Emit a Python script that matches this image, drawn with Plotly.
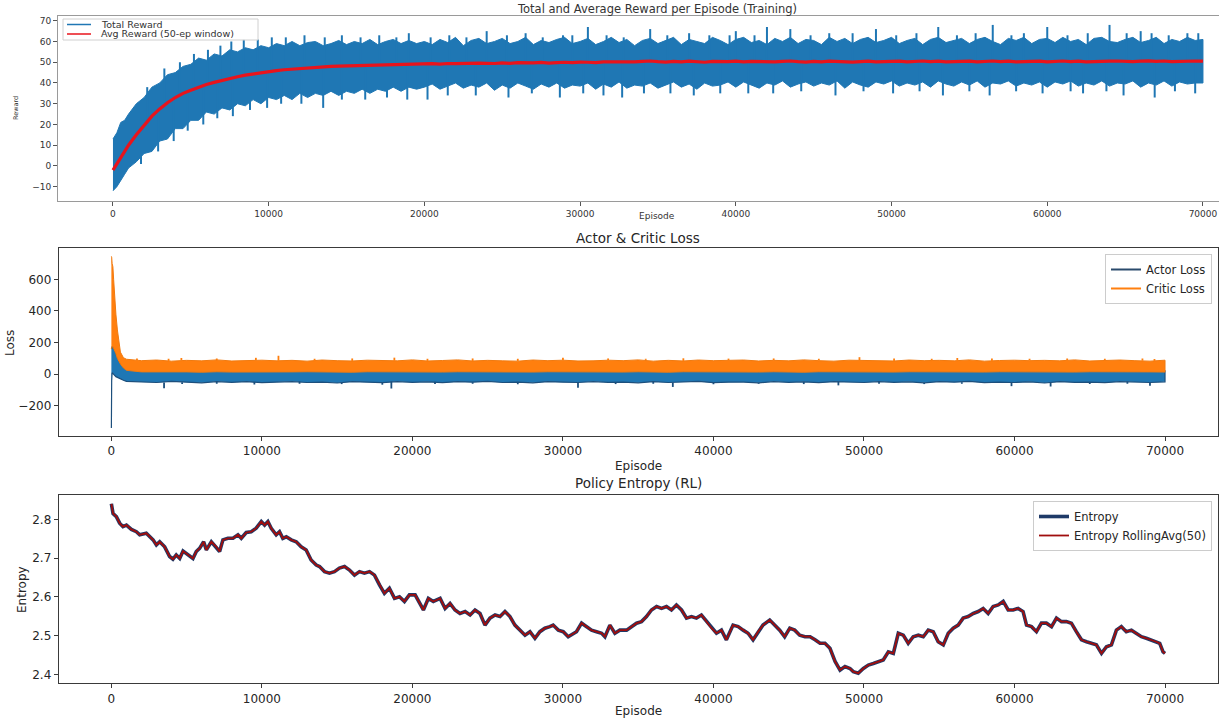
import plotly.graph_objects as go

# ---------------- data ----------------
# Panel 1: total reward envelope (typical min / max of the noisy series) and 50-ep average
rew_ep = [0, 250, 500, 750] + list(range(1000, 70001, 500))
rew_hi = [13, 16, 21, 22,
          25, 30, 33, 38, 40, 44, 45, 48, 49, 52,
          51, 54, 53, 56, 55, 57, 56, 58, 57, 59,
          58, 60, 58, 59.5, 60, 58, 59, 60.5, 58.5, 60,
          59, 61, 58.5, 60, 61, 59, 60.5, 59,
          60, 58.5, 61, 59.5, 62, 58, 60.5, 61.5, 59, 60,
          61.5, 59, 60, 62, 58.5, 60.5, 59.5, 61, 62, 59,
          60, 61.5, 58.5, 60, 62, 59.5, 61, 58, 60.5, 61.5,
          59, 60.5, 62, 58.5, 61, 60, 59, 62, 60.5, 58.5,
          61, 62, 59.5, 60.5, 58.5, 61.5, 60, 62, 59, 61,
          60.5, 58.5, 62, 60, 61.5, 59, 61, 62, 59.5, 60.5,
          62, 59, 60.5, 61.5, 58.5, 61, 62, 59.5, 60.5, 61.5,
          59, 61, 62, 60, 58.5, 61.5, 60.5, 62, 59, 61,
          61.5, 59.5, 62, 60, 61, 58.5, 61.5, 62, 60, 59.5,
          61, 62, 59.5, 60.5, 62, 59, 61, 60, 62, 60.5,
          61]
rew_lo = [-12, -10, -7, -4,
          -1, 2, 6, 7, 12, 13, 18, 18, 22, 22,
          26, 25, 28, 27, 30, 29, 32, 30, 33, 32,
          34, 32, 35, 33, 35, 34, 36, 34, 36, 35,
          37, 35, 37, 36, 38, 36, 38, 37,
          38, 39.5, 37, 38.5, 40, 37.5, 39, 38, 40, 36.5,
          39, 37.5, 40, 38.5, 37, 39.5, 38, 40, 37.5, 39,
          38.5, 40, 37, 39.5, 38, 40.5, 37.5, 39, 38.5, 40,
          37.5, 39, 40.5, 38, 39.5, 37, 40, 38.5, 39, 40.5,
          38, 40.5, 39, 37.5, 40, 39, 41, 38, 39.5, 40.5,
          38.5, 40, 39, 41, 37.5, 40.5, 39, 38, 40.5, 39.5,
          41, 38.5, 40, 39, 40.5, 38, 41, 39.5, 38.5, 40.5,
          39, 41, 38, 40, 39.5, 41, 38.5, 40, 39, 40.5,
          38, 40.5, 39.5, 41, 38.5, 40, 39, 41, 38.5, 40,
          39.5, 41, 38, 40, 39, 41, 38.5, 40.5, 39.5, 40,
          40]
rew_avg = [-2, 1, 4, 7,
           10, 15, 19.5, 24, 27.5, 30.5, 33, 35, 36.5, 38,
           39.3, 40.3, 41.3, 42.2, 43, 43.8, 44.4, 45, 45.6, 46,
           46.4, 46.7, 47, 47.3, 47.5, 47.7, 48, 48.1, 48.2, 48.4,
           48.5, 48.6, 48.7, 48.8, 48.9, 49, 49, 49.1,
           49.2, 49.3, 49.1, 49.4, 49.3, 49.5, 49.4, 49.6, 49.5, 49.4,
           49.7, 49.5, 49.8, 49.6, 49.7, 49.9, 49.6, 49.8, 50.0, 49.8,
           50.1, 50.0, 49.8, 50.2, 50.1, 50.3, 50.0, 50.2, 50.4, 50.6,
           50.3, 50.1, 50.4, 50.2, 50.5, 50.3, 50.0, 50.4, 50.2, 50.3,
           50.5, 50.2, 50.4, 50.3, 50.5, 50.2, 50.4, 50.6, 50.3, 50.1,
           50.4, 50.2, 50.5, 50.3, 50.4, 50.1, 50.3, 50.5, 50.2, 50.4,
           50.3, 50.5, 50.2, 50.4, 50.6, 50.3, 50.5, 50.2, 50.4, 50.3,
           50.5, 50.2, 50.4, 50.6, 50.3, 50.5, 50.2, 50.4, 50.3, 50.5,
           50.2, 50.4, 50.6, 50.3, 50.5, 50.2, 50.4, 50.3, 50.5, 50.6,
           50.4, 50.3, 50.5, 50.7, 50.4, 50.6, 50.3, 50.5, 50.4, 50.6,
           50.5]
# isolated reward spikes above / below the band
rew_spk_hi_ep = [2200, 3300, 4300, 5200, 6100, 6900, 7600, 8400, 9300, 10200,
                 11100, 12300, 13600, 14700, 15900, 17100, 18200, 19000, 20400, 21600,
                 22700, 24000, 25300, 26500, 27600, 28900, 29500, 30500, 31700, 32800,
                 34500, 35600, 37000, 38300, 39600, 40000, 41200, 42000, 43500, 44800,
                 46000, 47500, 49000, 50300, 51600, 53000, 54200, 55400, 56500, 57700,
                 58500, 60000, 61300, 62600, 64000, 65100, 66000, 66700, 67800, 69000,
                 69700]
rew_spk_hi = [38, 47, 50, 54, 56, 58, 60, 61, 61, 62,
              62, 63, 62, 63, 62, 63, 62, 64, 62, 63,
              62, 65, 63, 64, 62, 63, 63, 67, 63, 62,
              66, 63, 64, 63, 63, 65, 63, 67, 66, 63,
              64, 64, 66, 63, 64, 67, 63, 64, 68, 63,
              64, 67, 63, 64, 68, 64, 65, 64, 63, 64,
              64]
rew_spk_lo_ep = [1800, 2900, 3900, 4800, 5800, 6700, 7700, 8800, 9900, 10800,
                 12100, 13500, 14700, 16200, 17600, 18900, 20200, 21500, 23300, 25400,
                 26900, 28700, 30200, 31500, 32700, 34100, 35800, 37300, 39000, 40800,
                 42400, 44200, 46400, 48200, 50100, 51800, 53300, 55000, 56300, 58000,
                 59700, 61500, 62300, 63800, 64900, 66900, 68200, 69500]
rew_spk_lo = [1, 7, 12, 17, 20, 23, 24, 27, 28, 30,
              30, 28, 32, 32, 33, 32, 32, 34, 34, 33,
              35, 33, 35, 34, 33, 35, 35, 34, 35, 35,
              35, 36, 34, 36, 35, 36, 34, 36, 34, 36,
              35, 36, 35, 36, 34, 33, 36, 35]

# Panel 2: actor / critic loss envelopes
loss_ep = [0, 20, 50, 100, 150, 200, 300, 400, 500, 600, 800, 1000] + list(range(2000, 70001, 1000))
actor_lo = [-340, -40, 10, 5, 0, -5, -15, -20, -25, -30, -38, -45,
            -48, -52, -45, -50, -54, -46, -51, -47, -53, -49,
            -46, -52, -49, -55, -47, -50, -53, -46, -51, -48,
            -53, -47, -50, -45, -52, -49, -54, -47, -50, -52,
            -46, -51, -49, -54, -47, -52, -48, -45, -53, -50,
            -49, -54, -46, -51, -48, -53, -47, -50, -52, -46,
            -51, -48, -54, -47, -50, -45, -53, -49, -52, -48,
            -55, -47, -51, -49, -53, -46, -50, -52, -48]
actor_hi = [160, 168, 175, 178, 170, 158, 135, 105, 85, 70, 45, 30,
            22, 21, 23, 22, 20, 23, 21, 22, 23, 21,
            22, 23, 21, 22, 20, 23, 22, 21, 23, 22,
            21, 23, 22, 20, 23, 22, 21, 23, 22, 21,
            23, 22, 21, 23, 22, 20, 23, 22, 21, 23,
            22, 21, 23, 22, 20, 23, 22, 21, 23, 22,
            21, 23, 22, 20, 23, 22, 21, 23, 22, 21,
            23, 22, 21, 23, 22, 20, 23, 22, 21]
critic_lo = [160, 165, 170, 175, 165, 150, 130, 100, 80, 65, 40, 25,
             15, 14, 16, 15, 13, 16, 14, 15, 16, 14,
             15, 16, 14, 15, 13, 16, 15, 14, 16, 15,
             14, 16, 15, 13, 16, 15, 14, 16, 15, 14,
             16, 15, 14, 16, 15, 13, 16, 15, 14, 16,
             15, 14, 16, 15, 13, 16, 15, 14, 16, 15,
             14, 16, 15, 13, 16, 15, 14, 16, 15, 14,
             16, 15, 14, 16, 15, 13, 16, 15, 14]
critic_hi = [745, 740, 700, 680, 600, 500, 380, 280, 190, 140, 105, 95,
             86, 90, 83, 88, 85, 91, 84, 87, 89, 85,
             88, 83, 90, 86, 84, 89, 87, 85, 91, 84,
             87, 91, 84, 88, 85, 83, 90, 86, 89, 84,
             85, 89, 86, 91, 83, 88, 84, 90, 86, 87,
             90, 84, 88, 85, 91, 86, 83, 89, 87, 85,
             84, 90, 86, 88, 85, 91, 83, 87, 89, 86,
             88, 85, 91, 84, 87, 90, 86, 83, 89]
actor_spk_ep = [3500, 4700, 7000, 9500, 12500, 15300, 18000, 18600, 21500, 24000,
                27000, 31000, 33500, 36000, 37300, 40000, 43000, 46000, 48300, 51000,
                54000, 56500, 59800, 62400, 65000, 67500, 69000]
actor_spk = [-88, -62, -60, -65, -60, -62, -66, -90, -62, -60,
             -63, -85, -62, -60, -80, -63, -60, -62, -70, -60,
             -62, -60, -75, -78, -62, -60, -72]
critic_spk_ep = [1700, 3800, 4650, 7000, 9600, 11100, 13500, 16000, 18800, 21000,
                 24000, 27000, 30000, 33000, 35500, 38000, 41000, 44000, 47000, 49700,
                 52000, 54500, 56200, 58500, 61000, 63500, 66000, 68500, 69300]
critic_spk = [100, 98, 103, 100, 104, 117, 98, 100, 105, 98,
              100, 98, 104, 100, 98, 101, 99, 100, 98, 108,
              100, 98, 103, 100, 98, 100, 98, 99, 97]

# Panel 3: policy entropy
ent_ep = [0, 110, 330, 550, 770, 1000, 1330, 1660, 1880, 2320, 2770, 2990, 3210, 3540, 3870,
          4090, 4310, 4540, 4760, 5090, 5420, 5640, 5860, 6130, 6310, 6640, 6970, 7190, 7410,
          7740, 8080, 8410, 8630, 8960, 9290, 9620, 9960, 10180, 10400, 10620, 10950, 11170,
          11390, 11620, 11950, 12280, 12610, 12940, 13270, 13610, 13830, 14160, 14490, 14820,
          15150, 15490, 15820, 16150, 16480, 16810, 17150, 17480, 17810, 18140, 18470, 18810,
          19140, 19470, 19800, 20180, 20730, 21060, 21390, 21840, 22170, 22500, 22830, 23160,
          23500, 23830, 24160, 24490, 24820, 25150, 25490, 25820, 26150, 26480, 26810, 27140,
          27480, 27810, 28140, 28470, 28800, 29130, 29350, 29690, 30020, 30350, 30680, 30900,
          31240, 31570, 31900, 32230, 32570, 32790, 33120, 33450, 33780, 34230, 34560, 34890,
          35220, 35550, 35880, 36220, 36550, 36880, 37210, 37540, 37880, 38210, 38540, 38870,
          39200, 39540, 39870, 40200, 40530, 40860, 41300, 41640, 41970, 42300, 42630, 42960,
          43290, 43740, 44070, 44400, 44730, 45070, 45400, 45730, 46080, 46420, 46750, 47080,
          47410, 47740, 48080, 48410, 48740, 49070, 49290, 49620, 49960, 50290, 50620, 50950,
          51280, 51620, 51950, 52280, 52610, 52940, 53270, 53610, 53940, 54270, 54600, 54930,
          55270, 55600, 55930, 56260, 56590, 56920, 57260, 57590, 57920, 58250, 58580, 58920,
          59250, 59580, 59910, 60240, 60570, 60800, 61130, 61460, 61790, 62120, 62460, 62790,
          63120, 63450, 63780, 64110, 64450, 64780, 65110, 65440, 65780, 66110, 66440, 66770,
          67100, 67430, 67770, 68100, 68430, 68760, 69090, 69420, 69650, 69870, 70000]
ent_val = [2.84, 2.815, 2.807, 2.79, 2.781, 2.785, 2.774, 2.768, 2.76, 2.764, 2.747, 2.734, 2.742, 2.729, 2.704,
           2.697, 2.708, 2.699, 2.718, 2.708, 2.699, 2.717, 2.725, 2.742, 2.721, 2.742, 2.729, 2.717, 2.747,
           2.751, 2.751, 2.76, 2.751, 2.766, 2.768, 2.777, 2.794, 2.785, 2.794, 2.777, 2.76, 2.768,
           2.751, 2.755, 2.747, 2.742, 2.729, 2.721, 2.695, 2.682, 2.678, 2.665, 2.661, 2.665,
           2.674, 2.678, 2.669, 2.656, 2.665, 2.661, 2.665, 2.656, 2.631, 2.609, 2.622, 2.596,
           2.600, 2.588, 2.605, 2.605, 2.566, 2.596, 2.588, 2.596, 2.570, 2.583, 2.566, 2.557,
           2.562, 2.553, 2.566, 2.557, 2.527, 2.545, 2.553, 2.549, 2.562, 2.549, 2.527, 2.514,
           2.501, 2.51, 2.493, 2.51, 2.519, 2.523, 2.527, 2.514, 2.51, 2.497, 2.506, 2.51,
           2.532, 2.523, 2.514, 2.51, 2.506, 2.497, 2.527, 2.506, 2.514, 2.514, 2.523, 2.532,
           2.536, 2.549, 2.566, 2.575, 2.570, 2.575, 2.566, 2.579, 2.566, 2.545, 2.549, 2.545,
           2.553, 2.536, 2.519, 2.506, 2.514, 2.489, 2.527, 2.523, 2.514, 2.506, 2.489, 2.51,
           2.527, 2.54, 2.527, 2.514, 2.497, 2.519, 2.514, 2.501, 2.497, 2.497, 2.489, 2.48,
           2.48, 2.467, 2.433, 2.411, 2.420, 2.415, 2.407, 2.403, 2.415, 2.424, 2.428, 2.433,
           2.437, 2.458, 2.454, 2.506, 2.501, 2.48, 2.497, 2.501, 2.497, 2.514, 2.51, 2.484,
           2.476, 2.506, 2.519, 2.527, 2.545, 2.549, 2.557, 2.562, 2.570, 2.557, 2.575, 2.579,
           2.588, 2.566, 2.566, 2.57, 2.562, 2.527, 2.523, 2.51, 2.532, 2.532, 2.523, 2.545,
           2.536, 2.536, 2.532, 2.51, 2.489, 2.484, 2.48, 2.476, 2.454, 2.471, 2.476, 2.514,
           2.523, 2.51, 2.514, 2.506, 2.497, 2.493, 2.489, 2.484, 2.48, 2.458, 2.454]
ent_roll = ent_val

# tick labels
ep_ticks = [0, 10000, 20000, 30000, 40000, 50000, 60000, 70000]
ep_ticktext = ["0", "10000", "20000", "30000", "40000", "50000", "60000", "70000"]
rew_ticks = [-10, 0, 10, 20, 30, 40, 50, 60, 70]
rew_ticktext = ["\u221210", "0", "10", "20", "30", "40", "50", "60", "70"]
loss_ticks = [-200, 0, 200, 400, 600]
loss_ticktext = ["\u2212200", "0", "200", "400", "600"]
ent_ticks = [2.4, 2.5, 2.6, 2.7, 2.8]
ent_ticktext = ["2.4", "2.5", "2.6", "2.7", "2.8"]

assert len(rew_hi) == len(rew_ep) == len(rew_lo) == len(rew_avg)
assert len(rew_spk_hi_ep) == len(rew_spk_hi) and len(rew_spk_lo_ep) == len(rew_spk_lo)
assert len(actor_lo) == len(loss_ep) == len(actor_hi) == len(critic_lo) == len(critic_hi)
assert len(actor_spk_ep) == len(actor_spk) and len(critic_spk_ep) == len(critic_spk)
assert len(ent_ep) == len(ent_val)

# ---------------- figure ----------------
W, H = 1219, 722
FONT = "DejaVu Sans"
TXT = "#262626"


def px(x):
    return x / W


def py(y):
    return 1 - y / H


def band(xs, lo, hi):
    return xs + xs[::-1], hi + lo[::-1]


def spikes(xs, base_x, base_y, ys):
    # vertical segments from inside the band out to each spike value
    sx, sy = [], []
    for x, y in zip(xs, ys):
        i = min(range(len(base_x)), key=lambda k: abs(base_x[k] - x))
        sx += [x, x, None]
        sy += [base_y[i], y, None]
    return sx, sy


fig = go.Figure()

# Panel 1
bx, by = band(rew_ep, rew_lo, rew_hi)
fig.add_trace(go.Scatter(x=bx, y=by, fill="toself", fillcolor="#1f77b4", mode="lines",
                         line=dict(color="#1f77b4", width=1), xaxis="x", yaxis="y",
                         showlegend=False, hoverinfo="skip", name="Total Reward"))
for sxs, sys_ in (spikes(rew_spk_hi_ep, rew_ep, rew_avg, rew_spk_hi),
                  spikes(rew_spk_lo_ep, rew_ep, rew_avg, rew_spk_lo)):
    fig.add_trace(go.Scatter(x=sxs, y=sys_, mode="lines", line=dict(color="#1f77b4", width=2),
                             xaxis="x", yaxis="y", showlegend=False, hoverinfo="skip"))
fig.add_trace(go.Scatter(x=rew_ep, y=rew_avg, mode="lines", line=dict(color="#e8141c", width=3.2),
                         xaxis="x", yaxis="y", showlegend=False, name="Avg Reward (50-ep window)"))

# Panel 2
bx, by = band(loss_ep, actor_lo, actor_hi)
fig.add_trace(go.Scatter(x=bx, y=by, fill="toself", fillcolor="#1f77b4", mode="lines",
                         line=dict(color="#1d4f7c", width=1.2), xaxis="x2", yaxis="y2",
                         showlegend=False, hoverinfo="skip"))
sx, sy = spikes(actor_spk_ep, loss_ep, actor_lo, actor_spk)
fig.add_trace(go.Scatter(x=sx, y=sy, mode="lines", line=dict(color="#1d4f7c", width=1.8),
                         xaxis="x2", yaxis="y2", showlegend=False, hoverinfo="skip"))
bx, by = band(loss_ep, critic_lo, critic_hi)
fig.add_trace(go.Scatter(x=bx, y=by, fill="toself", fillcolor="#ff7f0e", mode="lines",
                         line=dict(color="#f07a10", width=1), xaxis="x2", yaxis="y2",
                         showlegend=False, hoverinfo="skip"))
sx, sy = spikes(critic_spk_ep, loss_ep, critic_hi, critic_spk)
fig.add_trace(go.Scatter(x=sx, y=sy, mode="lines", line=dict(color="#ff7f0e", width=1.8),
                         xaxis="x2", yaxis="y2", showlegend=False, hoverinfo="skip"))
fig.add_trace(go.Scatter(x=[None], y=[None], mode="lines", line=dict(color="#2a4a6c", width=2),
                         name="Actor Loss", xaxis="x2", yaxis="y2", legend="legend"))
fig.add_trace(go.Scatter(x=[None], y=[None], mode="lines", line=dict(color="#ff7f0e", width=2),
                         name="Critic Loss", xaxis="x2", yaxis="y2", legend="legend"))

# Panel 3
fig.add_trace(go.Scatter(x=ent_ep, y=ent_val, mode="lines", line=dict(color="#1f3a68", width=3.6),
                         name="Entropy", xaxis="x3", yaxis="y3", legend="legend2"))
fig.add_trace(go.Scatter(x=ent_ep, y=ent_roll, mode="lines", line=dict(color="#a00d0d", width=1.8),
                         name="Entropy RollingAvg(50)", xaxis="x3", yaxis="y3", legend="legend2"))

common_x = dict(showgrid=False, zeroline=False, ticks="outside", ticklen=4, showline=True,
                mirror=True, tickmode="array", tickvals=ep_ticks, ticktext=ep_ticktext)
common_y = dict(showgrid=False, zeroline=False, ticks="outside", ticklen=4, showline=True,
                tickmode="array")

fig.update_layout(
    width=W, height=H, autosize=False,
    margin=dict(l=0, r=0, t=0, b=0),
    paper_bgcolor="white", plot_bgcolor="white",
    font=dict(family=FONT, color=TXT, size=12),
    xaxis=dict(common_x, domain=[px(58), 1.0], range=[-3530, 71030], anchor="y",
               linecolor="#9a9a9a", tickcolor="#555", tickfont=dict(size=9, color="#333")),
    yaxis=dict(common_y, domain=[py(201), py(16)], range=[-16.9, 72.3], anchor="x", mirror=False,
               tickvals=rew_ticks, ticktext=rew_ticktext,
               linecolor="#9a9a9a", tickcolor="#555", tickfont=dict(size=9, color="#333")),
    xaxis2=dict(common_x, domain=[px(58.7), px(1217.7)], range=[-3500, 73500], anchor="y2",
                linecolor="#3a3a3a", tickcolor="#3a3a3a", tickfont=dict(size=12)),
    yaxis2=dict(common_y, domain=[py(436), py(248.3)], range=[-390, 796], anchor="x2", mirror=True,
                tickvals=loss_ticks, ticktext=loss_ticktext,
                linecolor="#3a3a3a", tickcolor="#3a3a3a", tickfont=dict(size=12)),
    xaxis3=dict(common_x, domain=[px(58.7), px(1217.7)], range=[-3500, 73500], anchor="y3",
                linecolor="#3a3a3a", tickcolor="#3a3a3a", tickfont=dict(size=12)),
    yaxis3=dict(common_y, domain=[py(683.3), py(495)], range=[2.3768, 2.8627], anchor="x3", mirror=True,
                tickvals=ent_ticks, ticktext=ent_ticktext,
                linecolor="#3a3a3a", tickcolor="#3a3a3a", tickfont=dict(size=12)),
    legend=dict(x=px(1212), y=py(254), xanchor="right", yanchor="top", bgcolor="rgba(255,255,255,0.85)",
                bordercolor="#cccccc", borderwidth=1, font=dict(size=11.5), itemwidth=30,
                tracegroupgap=0),
    legend2=dict(x=px(1212), y=py(501), xanchor="right", yanchor="top", bgcolor="rgba(255,255,255,0.85)",
                 bordercolor="#cccccc", borderwidth=1, font=dict(size=11.5), itemwidth=30,
                 tracegroupgap=0),
)

ann = []


def text(x, y, s, size, angle=0, xanchor="center", color=TXT):
    ann.append(dict(x=px(x), y=py(y), xref="paper", yref="paper", text=s, showarrow=False,
                    font=dict(size=size, family=FONT, color=color), textangle=angle,
                    xanchor=xanchor, yanchor="middle"))


# titles and axis labels
text(657, 9, "Total and Average Reward per Episode (Training)", 11.5, color="#333")
text(657, 216, "Episode", 9, color="#333")
text(16, 108, "Reward", 6.5, angle=-90, color="#333")
text(638, 238, "Actor &amp; Critic Loss", 13.5)
text(638, 466, "Episode", 12)
text(10, 343, "Loss", 12, angle=-90)
text(638, 483, "Policy Entropy (RL)", 13.5)
text(638, 711, "Episode", 12)
text(22, 590, "Entropy", 12, angle=-90)

# compact manual legend for the top panel
shapes = [
    dict(type="rect", xref="paper", yref="paper", x0=px(63), x1=px(258), y0=py(40), y1=py(19),
         line=dict(color="#d0d0d0", width=1), fillcolor="rgba(255,255,255,0.85)", layer="above"),
    dict(type="line", xref="paper", yref="paper", x0=px(67), x1=px(91), y0=py(24.5), y1=py(24.5),
         line=dict(color="#1f77b4", width=1.5), layer="above"),
    dict(type="line", xref="paper", yref="paper", x0=px(67), x1=px(91), y0=py(34), y1=py(34),
         line=dict(color="#e8141c", width=1.5), layer="above"),
]
text(99, 24.5, "Total Reward", 9.5, xanchor="left", color="#333")
text(99, 34, "Avg Reward (50-ep window)", 9.5, xanchor="left", color="#333")

fig.update_layout(annotations=ann, shapes=shapes)

fig.write_html("out.html", config={"displayModeBar": False},
               post_script="document.body.style.margin='0';document.body.style.overflow='hidden';")
